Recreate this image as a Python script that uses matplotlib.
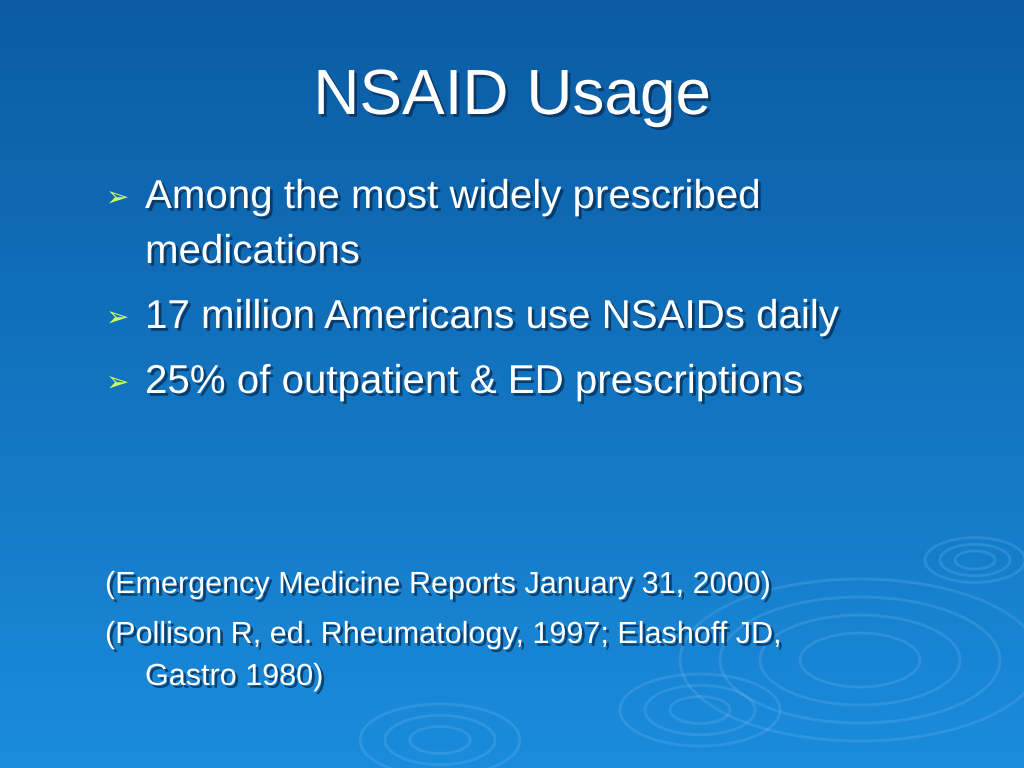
import numpy as np
import matplotlib
matplotlib.use("Agg")
import matplotlib.pyplot as plt
import matplotlib.patheffects as pe
from matplotlib.patches import Ellipse

# Contenido de la diapositiva
titulo = "NSAID Usage"
vinetas = [["Among the most widely prescribed", "medications"],
           ["17 million Americans use NSAIDs daily"],
           ["25% of outpatient & ED prescriptions"]]
referencias = [["(Emergency Medicine Reports January 31, 2000)"],
               ["(Pollison R, ed. Rheumatology, 1997; Elashoff JD,", "Gastro 1980)"]]

plt.rcParams['font.family'] = ['Liberation Sans', 'DejaVu Sans']

fig = plt.figure(figsize=(10.24, 7.68), dpi=100)
ax = fig.add_axes([0, 0, 1, 1])
ax.set_xlim(0, 1024)
ax.set_ylim(768, 0)
ax.axis("off")

# Fondo degradado azul
top = np.array([0x0b, 0x5c, 0xa3]) / 255
bot = np.array([0x1a, 0x8c, 0xdc]) / 255
t = np.linspace(0, 1, 256)[:, None, None]
grad = top + (bot - top) * t
grad = np.repeat(grad, 2, axis=1)
ax.imshow(grad, extent=[0, 1024, 768, 0], aspect="auto", zorder=0)

# Ondas tenues
for cx, cy, rs in [(975, 560, [20, 35, 50]), (860, 660, [60, 100, 140, 180]),
                   (700, 710, [30, 55, 80]), (440, 740, [30, 55, 80])]:
    for r in rs:
        ax.add_patch(Ellipse((cx, cy), 2 * r, r * 0.9, fill=False,
                             ec=(0.6, 0.8, 1, 0.18), lw=2, zorder=1))

sombra = [pe.withSimplePatchShadow(offset=(2, -2), shadow_rgbFace="#06305a", alpha=0.8)]

ax.text(512, 97, titulo, fontsize=46, color="white", ha="center", va="center",
        path_effects=sombra, zorder=3)

y = 197
for lineas in vinetas:
    ax.text(118, y + 2, "➢", fontsize=20, color="#ccff66", ha="center", va="center",
            family=['DejaVu Sans'], zorder=3)
    for ln in lineas:
        ax.text(145, y, ln, fontsize=29, color="white", va="center",
                path_effects=sombra, zorder=3)
        y += 55
    y += 10

y = 585
for lineas in referencias:
    for i, ln in enumerate(lineas):
        ax.text(105 if i == 0 else 145, y, ln, fontsize=22, color="white", va="center",
                path_effects=sombra, zorder=3)
        y += 42
    y += 8

fig.savefig("out.png", dpi=100)
